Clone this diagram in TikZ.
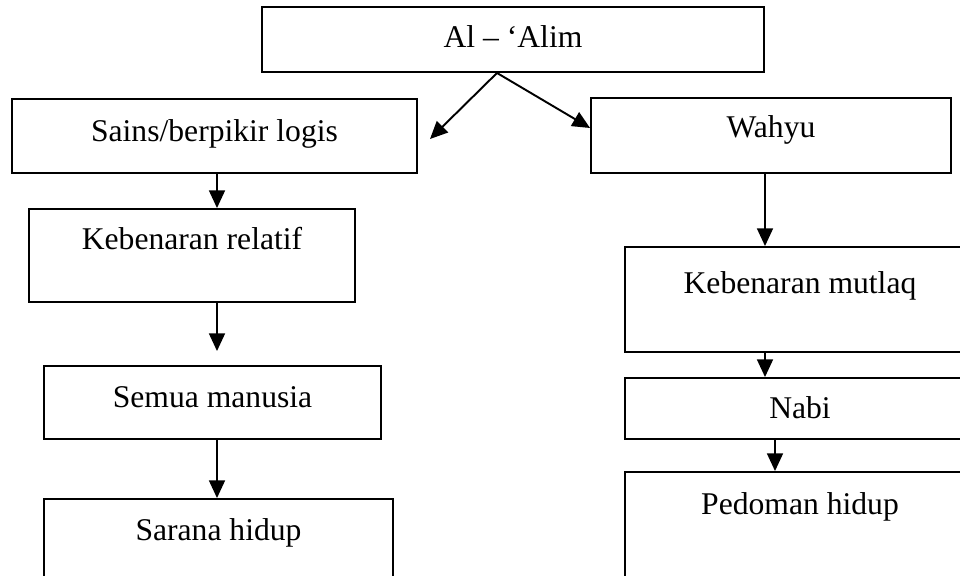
\documentclass[tikz,border=0pt]{standalone}
\usepackage{fontspec}
\setmainfont{Liberation Serif}
\usetikzlibrary{arrows.meta,positioning}

\begin{document}
\begin{tikzpicture}[
  x=0.02cm,y=-0.02cm,
  >={Triangle[length=10pt,width=9pt]},
  font=\fontsize{18}{22}\selectfont,
  box/.style={draw,line width=1.1pt,inner sep=0pt,align=center,text height=13.6pt},
  col/.style={box,minimum width=7cm},
  arr/.style={->,line width=1.1pt}
]
\useasboundingbox (0,0) rectangle (960,575);
\clip (0,0) rectangle (960,575);

\node[box,minimum width=10.04cm,minimum height=1.30cm,text depth=4.5pt] (alim) at (513,39.5) {Al – ‘Alim};

\node[box,minimum width=8.10cm,minimum height=1.48cm,text depth=7.4pt] (sains) at (214.5,136) {Sains/berpikir logis};
\node[box,minimum width=6.52cm,minimum height=1.86cm,text depth=20.4pt] (relatif) at (192,255.5) {Kebenaran relatif};
\node[box,minimum width=6.74cm,minimum height=1.46cm,text depth=7.9pt] (semua) at (212.5,402.5) {Semua manusia};
\node[box,minimum width=6.98cm,minimum height=2.02cm,text depth=24.4pt] (sarana) at (218.5,549.5) {Sarana hidup};

\node[box,minimum width=7.20cm,minimum height=1.50cm,text depth=11.3pt] (wahyu) at (771,135.5) {Wahyu};
\node[col,minimum height=2.10cm,text depth=20.4pt] (mutlaq) at (800,299.5) {Kebenaran mutlaq};
\node[col,minimum height=1.22cm,text depth=1.7pt] (nabi) at (800,408.5) {Nabi};
\node[col,minimum height=2.56cm,text depth=38pt] (pedoman) at (800,536) {Pedoman hidup};

\coordinate (sainsTip) at (430,139);
\coordinate (wahyuTip) at (wahyu.west |- 0,128);

\draw[arr] ([xshift=-0.32cm]alim.south) -- (sainsTip);
\draw[arr] ([xshift=-0.32cm]alim.south) -- (wahyuTip);

\draw[arr] ([xshift=0.05cm]sains.south) -- ([xshift=0.05cm]sains.south |- relatif.north);
\draw[arr,shorten >=0.28cm] ([xshift=0.05cm]sains.south |- relatif.south) -- ([xshift=0.05cm]sains.south |- semua.north);
\draw[arr] ([xshift=0.05cm]sains.south |- semua.south) -- ([xshift=0.05cm]sains.south |- sarana.north);

\draw[arr] ([xshift=-0.12cm]wahyu.south) -- ([xshift=-0.12cm]wahyu.south |- mutlaq.north);
\draw[arr] ([xshift=-0.12cm]wahyu.south |- mutlaq.south) -- ([xshift=-0.12cm]wahyu.south |- nabi.north);
\draw[arr] ([xshift=-0.5cm]nabi.south) -- ([xshift=-0.5cm]nabi.south |- pedoman.north);
\end{tikzpicture}
\end{document}
